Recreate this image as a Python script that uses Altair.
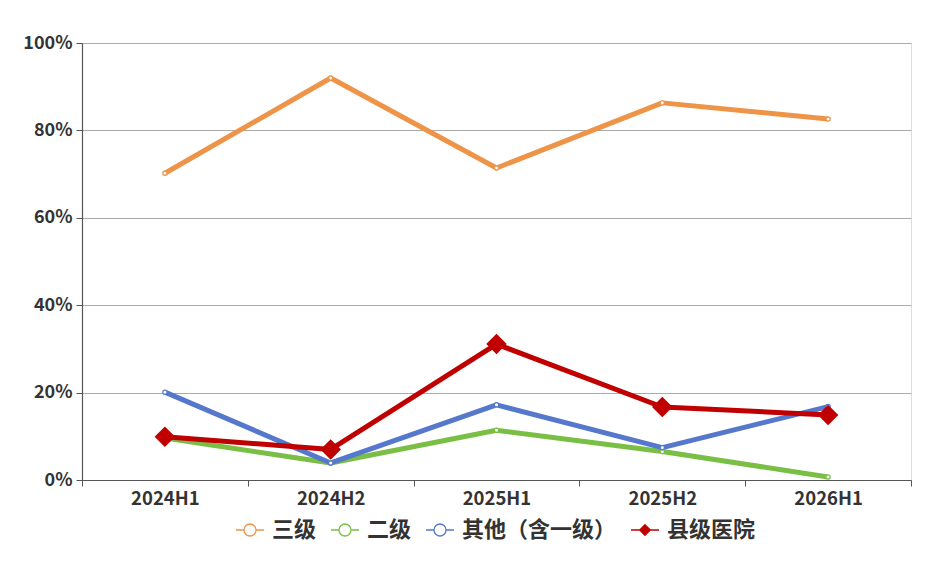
import altair as alt
import pandas as pd

periods = ["2024H1", "2024H2", "2025H1", "2025H2", "2026H1"]
series_names = ["三级", "二级", "其他（含一级）", "县级医院"]
v_sanji = [0.702, 0.920, 0.714, 0.863, 0.826]
v_erji = [0.096, 0.039, 0.114, 0.065, 0.007]
v_other = [0.201, 0.039, 0.172, 0.074, 0.168]
v_county = [0.099, 0.070, 0.311, 0.167, 0.149]
colors = ["#ee9448", "#7abf45", "#5577cc", "#c00000"]
legend_fills = ["#ffffff", "#ffffff", "#ffffff", "#c00000"]

rows = []
for name, vals in zip(series_names, [v_sanji, v_erji, v_other, v_county]):
    for p, v in zip(periods, vals):
        rows.append({"period": p, "series": name, "value": v})
df = pd.DataFrame(rows)

FONT = "Noto Sans CJK SC"

circ_path = "M-1,0H-0.43M0.43,0H1M-0.43,0A0.43,0.43,0,1,1,0.43,0A0.43,0.43,0,1,1,-0.43,0Z"
# diamond drawn as nested outlines so it reads solid even if fill is not applied
dia_parts = ["M-1,0H1"]
for r in [0.38, 0.31, 0.24, 0.17, 0.10, 0.04]:
    dia_parts.append(f"M0,-{r}L{r},0L0,{r}L-{r},0Z")
dia_path = "".join(dia_parts)
legend_shapes = [circ_path, circ_path, circ_path, dia_path]

x = alt.X("period:N", sort=periods, title=None,
          scale=alt.Scale(paddingInner=0, paddingOuter=0),
          axis=alt.Axis(labelAngle=0, tickBand="extent", grid=False,
                        labelFont=FONT, labelFontSize=18.5, labelFontWeight="bold",
                        labelColor="#333333", labelPadding=3,
                        domainColor="#555555", tickColor="#555555", tickSize=6,
                        domainWidth=1.2))
y = alt.Y("value:Q", title=None,
          scale=alt.Scale(domain=[0, 1], nice=False),
          axis=alt.Axis(values=[0, 0.2, 0.4, 0.6, 0.8, 1.0], format=".0%",
                        labelFont=FONT, labelFontSize=18, labelFontWeight="bold",
                        labelColor="#333333", labelPadding=4,
                        domainColor="#555555", tickColor="#555555", tickSize=6,
                        domainWidth=1.2,
                        gridColor="#aaaaaa", gridWidth=1))

def mk_legend():
    return alt.Legend(
        title=None, orient="none", direction="horizontal",
        legendX=153, legendY=472,
        labelFont=FONT, labelFontSize=22, labelFontWeight="bold", labelColor="#333333",
        labelOffset=7, columnPadding=11, symbolSize=784, symbolStrokeWidth=1.3,
    )

color_scale = alt.Scale(domain=series_names, range=colors)

lines = alt.Chart(df).mark_line(strokeWidth=5, strokeJoin="round").encode(
    x=x, y=y,
    color=alt.Color("series:N", sort=series_names, scale=color_scale, legend=mk_legend()),
)

circles = alt.Chart(df).transform_filter(
    alt.datum.series != "县级医院"
).mark_point(shape="circle", filled=False, fill="#ffffff", opacity=1,
             strokeWidth=1.2, size=18).encode(
    x=x, y=y,
    stroke=alt.Stroke("series:N", sort=series_names,
                      scale=alt.Scale(domain=series_names, range=colors), legend=None),
)

diamonds = alt.Chart(df).transform_filter(
    alt.datum.series == "县级医院"
).mark_point(shape="diamond", filled=True, color="#c00000", opacity=1, size=420).encode(
    x=x, y=y,
)

legend_layer = alt.Chart(df).transform_filter("false").mark_point(
    filled=False, opacity=1, strokeWidth=1.3
).encode(
    x=x, y=y,
    color=alt.Color("series:N", sort=series_names, scale=color_scale, legend=mk_legend()),
    shape=alt.Shape("series:N", sort=series_names,
                    scale=alt.Scale(domain=series_names, range=legend_shapes), legend=mk_legend()),
    fill=alt.Fill("series:N", sort=series_names,
                  scale=alt.Scale(domain=series_names, range=legend_fills), legend=mk_legend()),
)

chart = alt.layer(lines, circles, diamonds, legend_layer).properties(
    width=829, height=437,
    autosize=alt.AutoSizeParams(type="none"),
    padding={"left": 74, "top": 35, "right": 11, "bottom": 80},
).configure_view(stroke=None).configure(background="#ffffff")

chart.save("out.html", embed_options={"renderer": "svg", "actions": False})
